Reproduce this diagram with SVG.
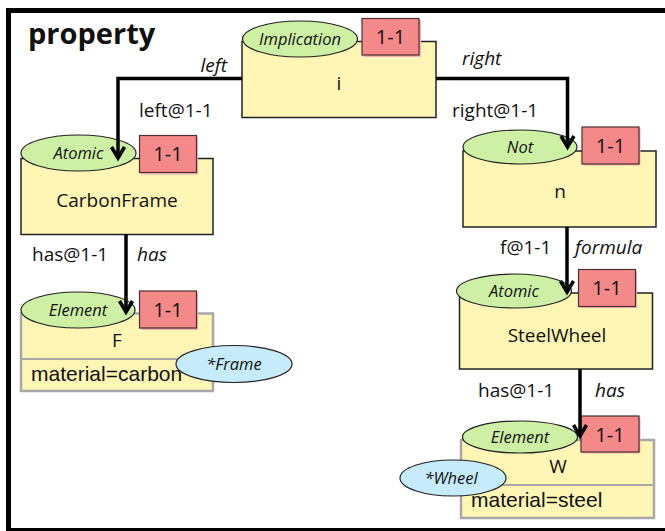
<svg xmlns="http://www.w3.org/2000/svg" width="665" height="531" viewBox="0 0 665 531">
<defs>
<style>
.lbl{font-family:"Open Sans","Noto Sans",sans-serif;font-size:19px;fill:#111}
.num{font-family:"Open Sans","Noto Sans",sans-serif;font-size:20px;fill:#111;text-anchor:middle}
.it{font-family:"Open Sans","Noto Sans",sans-serif;font-style:italic;font-size:19px;fill:#111}
.sub{font-family:"Open Sans","Noto Sans",sans-serif;font-style:italic;font-size:16.5px;fill:#111;text-anchor:middle}
.attr{font-family:"Liberation Sans",Arial,sans-serif;font-size:21px;fill:#111}
.body{fill:#fff5b5;stroke:#222;stroke-width:1.5}
.abody{fill:#fff5b5;stroke:#a8a8a8;stroke-width:2.5}
.kind{fill:#cdf0a5;stroke:#222;stroke-width:1.2}
.card{fill:#f4898a;stroke:#4a3030;stroke-width:1.2}
.cardsh{fill:#f7b0b0}
.role{fill:#c6ecfb;stroke:#222;stroke-width:1.2}
.conn{fill:none;stroke:#000;stroke-width:3.5;marker-end:url(#arr)}
</style>
<marker id="arr" markerUnits="userSpaceOnUse" markerWidth="30" markerHeight="30" viewBox="-20 -15 30 30" refX="0" refY="0" orient="auto" overflow="visible">
<path d="M-11,-6.5 L0,0 L-11,6.5" fill="none" stroke="#000" stroke-width="3.5" stroke-linejoin="miter"/>
</marker>
</defs>
<rect x="0" y="0" width="665" height="531" fill="#fff"/>
<rect x="8.5" y="10.5" width="680" height="520" fill="none" stroke="#000" stroke-width="5"/>
<text x="28" y="44" font-family="'Open Sans','Noto Sans',sans-serif" font-weight="bold" font-size="29" fill="#111">property</text>

<g id="node-i">
<rect class="body" x="242" y="41.5" width="194" height="76"/>
<ellipse class="kind" cx="300" cy="39" rx="57.5" ry="18"/>
<text class="sub" x="300" y="45">Implication</text>
<rect class="cardsh" x="364" y="20" width="57" height="37"/>
<rect class="card" x="362" y="18.5" width="57" height="36.5"/>
<text class="num" x="390.5" y="44">1-1</text>
<text class="lbl" x="339" y="90" text-anchor="middle">i</text>
</g>

<g id="node-carbonframe">
<rect class="body" x="21" y="158.5" width="192" height="76"/>
<ellipse class="kind" cx="78.5" cy="153" rx="57.5" ry="18"/>
<text class="sub" x="78.5" y="159">Atomic</text>
<rect class="cardsh" x="141" y="137" width="57" height="37.5"/>
<rect class="card" x="139.5" y="135.5" width="57" height="37"/>
<text class="num" x="168" y="161">1-1</text>
<text class="lbl" x="117" y="206.5" text-anchor="middle">CarbonFrame</text>
</g>

<g id="node-n">
<rect class="body" x="463" y="151" width="193" height="76"/>
<ellipse class="kind" cx="520" cy="147" rx="57" ry="17"/>
<text class="sub" x="520" y="153">Not</text>
<rect class="cardsh" x="583.5" y="128.5" width="57" height="37"/>
<rect class="card" x="582" y="127" width="57" height="37"/>
<text class="num" x="610.5" y="153">1-1</text>
<text class="lbl" x="560" y="198" text-anchor="middle">n</text>
</g>

<g id="node-steelwheel">
<rect class="body" x="459.5" y="293" width="193" height="76"/>
<ellipse class="kind" cx="514" cy="291" rx="57.5" ry="17"/>
<text class="sub" x="514" y="297">Atomic</text>
<rect class="cardsh" x="580" y="271" width="57" height="37"/>
<rect class="card" x="578.5" y="269.5" width="57" height="37"/>
<text class="num" x="607" y="295">1-1</text>
<text class="lbl" x="557" y="341.5" text-anchor="middle">SteelWheel</text>
</g>

<g id="node-F">
<rect class="abody" x="21" y="313.5" width="192" height="77.5"/>
<line x1="21" y1="359" x2="213" y2="359" stroke="#a8a8a8" stroke-width="2"/>
<ellipse class="kind" cx="78" cy="310" rx="57" ry="18"/>
<text class="sub" x="78" y="316">Element</text>
<rect class="cardsh" x="141" y="293" width="57" height="37"/>
<rect class="card" x="139.5" y="291" width="57" height="37"/>
<text class="num" x="168" y="317">1-1</text>
<text class="lbl" x="117" y="346.5" text-anchor="middle">F</text>
<text class="attr" x="31" y="381">material=carbon</text>
<ellipse class="role" cx="234" cy="364" rx="58" ry="18.5"/>
<text class="sub" x="234" y="370">*Frame</text>
</g>

<g id="node-W">
<rect class="abody" x="461" y="440" width="193" height="78"/>
<line x1="461" y1="485" x2="654" y2="485" stroke="#a8a8a8" stroke-width="2"/>
<ellipse class="kind" cx="520" cy="437" rx="57.5" ry="16"/>
<text class="sub" x="520" y="443">Element</text>
<rect class="cardsh" x="582.5" y="417.5" width="58" height="36"/>
<rect class="card" x="581" y="416" width="58" height="36"/>
<text class="num" x="610" y="441.5">1-1</text>
<text class="lbl" x="558" y="473" text-anchor="middle">W</text>
<text class="attr" x="471" y="507">material=steel</text>
<ellipse class="role" cx="453" cy="478" rx="53" ry="18"/>
<text class="sub" x="451" y="484">*Wheel</text>
</g>

<g id="connectors">
<path class="conn" d="M242,78.5 H118 V158"/>
<path class="conn" d="M436,78.5 H567.5 V147"/>
<path class="conn" d="M126,234 V312"/>
<path class="conn" d="M567,227 V292"/>
<path class="conn" d="M580,369 V436"/>
<text class="it" x="227" y="72" text-anchor="end">left</text>
<text class="lbl" x="139" y="117">left@1-1</text>
<text class="it" x="462" y="65">right</text>
<text class="lbl" x="452" y="117">right@1-1</text>
<text class="lbl" x="32" y="261">has@1-1</text>
<text class="it" x="137" y="261">has</text>
<text class="lbl" x="500" y="254">f@1-1</text>
<text class="it" x="575" y="254">formula</text>
<text class="lbl" x="478" y="397">has@1-1</text>
<text class="it" x="595" y="397">has</text>
</g>
</svg>
